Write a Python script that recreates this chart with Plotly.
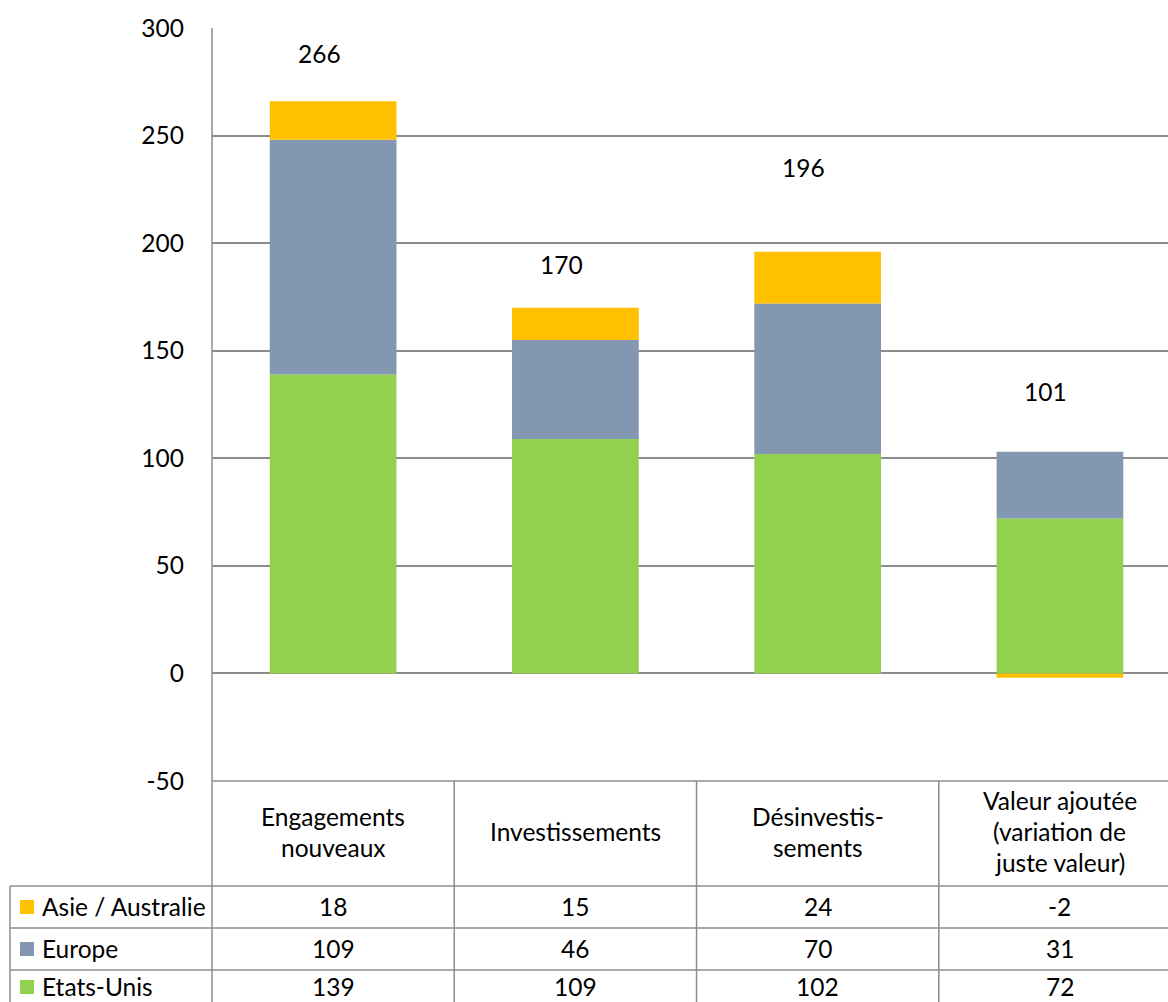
import plotly.graph_objects as go

categories = ["Engagements nouveaux", "Investissements", "Désinvestis-sements",
              "Valeur ajoutée (variation de juste valeur)"]
header_lines = [["Engagements", "nouveaux"], ["Investissements"],
                ["Désinvestis-", "sements"],
                ["Valeur ajoutée", "(variation de", "juste valeur)"]]
series_names = ["Asie / Australie", "Europe", "Etats-Unis"]
asie = [18, 15, 24, -2]
europe = [109, 46, 70, 31]
etats_unis = [139, 109, 102, 72]
totals = [266, 170, 196, 101]
y_ticks = [-50, 0, 50, 100, 150, 200, 250, 300]
y_tick_text = ["-50", "0", "50", "100", "150", "200", "250", "300"]

colors = {"Asie / Australie": "#FFC000", "Europe": "#8497B0", "Etats-Unis": "#92D050"}
# label vertical placement (in axis units) as in the original chart
label_y = [288, 190, 235, 131]

W, H = 1168, 1002
FONT = "Lato"
FS = 24.5
GRID = "#8C8C8C"
TXT = "#000000"

def py(p):
    return 1 - p / H

def px(p):
    return p / W

xs = list(range(len(categories)))
fig = go.Figure()
for name, vals in [("Etats-Unis", etats_unis), ("Europe", europe), ("Asie / Australie", asie)]:
    fig.add_trace(go.Bar(x=xs, y=vals, name=name, marker=dict(color=colors[name], line=dict(width=0)),
                         showlegend=False, hoverinfo="skip"))

annotations = []
for i, t in enumerate(totals):
    annotations.append(dict(x=xs[i], y=label_y[i], xref="x", yref="y", text=str(t), showarrow=False,
                            xshift=-14, font=dict(family=FONT, size=FS, color=TXT)))

# header cells
header_top, header_bot = 781, 886
for i, lines in enumerate(header_lines):
    n = len(lines)
    spacing = 31
    center = (header_top + header_bot) / 2 - 2
    for j, ln in enumerate(lines):
        yy = center + (j - (n - 1) / 2) * spacing
        annotations.append(dict(x=xs[i], y=py(yy), xref="x", yref="paper", text=ln, showarrow=False,
                                font=dict(family=FONT, size=FS, color=TXT), yanchor="middle"))

row_lines = [886, 928, 970, 1012]
row_centers = [906, 948, 986]
rows = [("Asie / Australie", asie), ("Europe", europe), ("Etats-Unis", etats_unis)]
for r, (name, vals) in enumerate(rows):
    yc = row_centers[r]
    annotations.append(dict(x=px(40), y=py(yc), xref="paper", yref="paper", text=name, showarrow=False,
                            xanchor="left", yanchor="middle", font=dict(family=FONT, size=FS, color=TXT)))
    for i, v in enumerate(vals):
        annotations.append(dict(x=xs[i], y=py(yc), xref="x", yref="paper", text=str(v), showarrow=False,
                                yanchor="middle", font=dict(family=FONT, size=FS, color=TXT)))

shapes = []
ln = dict(color=GRID, width=1.5)
# legend keys
for r, (name, _) in enumerate(rows):
    yc = row_centers[r] + 1
    shapes.append(dict(type="rect", xref="paper", yref="paper", x0=px(20), x1=px(34),
                       y0=py(yc - 7), y1=py(yc + 7), fillcolor=colors[name], line=dict(width=0)))
# table lines
shapes.append(dict(type="line", xref="paper", yref="paper", x0=px(212), x1=1, y0=py(781), y1=py(781), line=ln))
for yy in row_lines[:3]:
    shapes.append(dict(type="line", xref="paper", yref="paper", x0=px(10), x1=1, y0=py(yy), y1=py(yy), line=ln))
shapes.append(dict(type="line", xref="paper", yref="paper", x0=px(10), x1=px(10), y0=py(886), y1=0, line=ln))
shapes.append(dict(type="line", xref="paper", yref="paper", x0=px(212), x1=px(212), y0=py(28), y1=0, line=ln))
for b in [0.5, 1.5, 2.5]:
    shapes.append(dict(type="line", xref="x", yref="paper", x0=b, x1=b, y0=py(781), y1=0, line=ln))

fig.update_layout(
    width=W, height=H, margin=dict(l=0, r=0, t=0, b=0, pad=0), autosize=False,
    paper_bgcolor="white", plot_bgcolor="white",
    barmode="relative", bargap=0.477,
    xaxis=dict(domain=[px(212), 1], range=[-0.5, 3.446], showticklabels=False, showgrid=False,
               zeroline=False, showline=False, fixedrange=True, automargin=False),
    yaxis=dict(domain=[py(781), py(28)], range=[-50, 300], tickvals=y_ticks, ticktext=y_tick_text,
               showgrid=True, gridcolor=GRID, gridwidth=1.5, zeroline=True, zerolinecolor=GRID,
               zerolinewidth=1.5, showline=False, ticks="", ticklabelstandoff=27, automargin=False,
               tickfont=dict(family=FONT, size=FS, color=TXT), fixedrange=True),
    annotations=annotations, shapes=shapes,
)

fig.write_html(
    "out.html",
    config={"displayModeBar": False},
    post_script="document.body.style.margin='0';document.body.style.overflow='hidden';"
                "document.documentElement.style.overflow='hidden';",
)
